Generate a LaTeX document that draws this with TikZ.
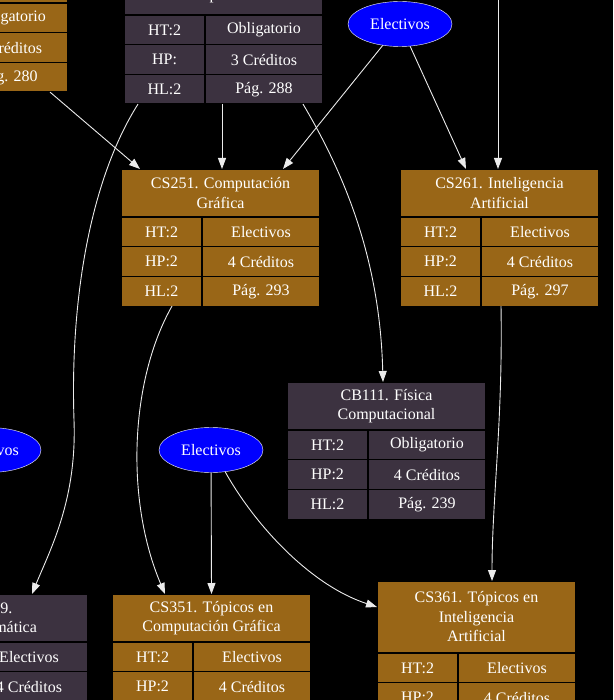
\documentclass[tikz,border=0pt]{standalone}
\usepackage{fontspec}
\setmainfont{Liberation Serif}
\usetikzlibrary{positioning,arrows.meta,shapes.geometric}

\definecolor{cafe}{RGB}{153,102,23}
\definecolor{gris}{RGB}{60,50,64}

% estilo, nombre, posicion, titulo, HP, categoria, creditos, pagina, alto del titulo
\newcommand\curso[9]{%
  \node[titulo,fill=#1,minimum height=#9,anchor=north west] (#2) at #3 {#4};
  \node[celda,izq,fill=#1,below=0pt of #2.south west,anchor=north west] (#2-ht) {HT:2};
  \node[celda,der,fill=#1,right=0pt of #2-ht] (#2-cat) {#6};
  \node[celda,izq,fill=#1,below=0pt of #2-ht.south west,anchor=north west] (#2-hp) {#5};
  \node[celda,der,fill=#1,right=0pt of #2-hp] (#2-cr) {#7};
  \node[celda,izq,fill=#1,below=0pt of #2-hp.south west,anchor=north west] (#2-hl) {HL:2};
  \node[celda,der,fill=#1,right=0pt of #2-hl] (#2-pag) {#8};
}

\begin{document}
\begin{tikzpicture}[x=1pt,y=-1pt,
  font=\fontsize{16}{19.5}\selectfont, >={Triangle[length=11pt,width=8pt]},
  titulo/.style={draw=black,line width=1.2pt,text=white,align=center,minimum width=199pt,inner sep=0pt,outer sep=0pt},
  celda/.style={draw=black,line width=1.2pt,text=white,minimum height=29.7pt,inner sep=0pt,outer sep=0pt},
  izq/.style={minimum width=81pt},
  der/.style={minimum width=118pt},
  elec/.style={ellipse,draw=white,fill=blue,text=white,minimum width=104pt,minimum height=45pt,inner sep=0pt},
  flecha/.style={->,draw=white!92!black,line width=0.9pt}
]
\useasboundingbox (0,0) rectangle (613,700);
\fill[black] (0,0) rectangle (613,700);
\clip (0,0) rectangle (613,700);

\curso{cafe}{p280}{(-131,-45)}{}{HP:2}{Obligatorio}{4 Créditos}{Pág. 280}{48pt}
\curso{gris}{p288}{(124,-33)}{\mbox{}\\computación}{HP:}{Obligatorio}{3 Créditos}{Pág. 288}{48pt}
\curso{cafe}{cs251}{(121,169)}{CS251. Computación\\Gráfica}{HP:2}{Electivos}{4 Créditos}{Pág. 293}{48pt}
\curso{cafe}{cs261}{(400,169)}{CS261. Inteligencia\\Artificial}{HP:2}{Electivos}{4 Créditos}{Pág. 297}{48pt}
\curso{gris}{cb111}{(287,382)}{CB111. Física\\Computacional}{HP:2}{Obligatorio}{4 Créditos}{Pág. 239}{48pt}
\curso{gris}{cs309}{(-111,594)}{CS309.\\Bioinformática}{HP:2}{Electivos}{4 Créditos}{}{48pt}
\curso{cafe}{cs351}{(112,594)}{CS351. Tópicos en\\Computación Gráfica}{HP:2}{Electivos}{4 Créditos}{}{48pt}
\curso{cafe}{cs361}{(377,581)}{CS361. Tópicos en\\Inteligencia\\Artificial}{HP:2}{Electivos}{4 Créditos}{}{72pt}

\node[elec] (el1) at (400,24) {Electivos};
\node[elec] (el2) at (211,450) {Electivos};
\node[elec] (el3) at (-11,450) {Electivos};
\coordinate (arriba) at (498,-5);

\draw[flecha] ([xshift=41pt]p280-pag.south) -- ([xshift=-80.5pt]cs251.north);
\draw[flecha] ([xshift=-26.5pt]p288-hl.south) .. controls (90,180) and (70,300) .. (74,420)
  .. controls (77,500) and (50,550) .. ([xshift=43.5pt]cs309.north);
\draw[flecha] ([xshift=-42pt]p288-pag.south) -- ([xshift=1.5pt]cs251.north);
\draw[flecha] ([xshift=39pt]p288-pag.south) .. controls (345,175) and (380,260) .. ([xshift=-3.5pt]cb111.north);
\draw[flecha] (el1) -- ([xshift=62.5pt]cs251.north);
\draw[flecha] (el1) -- ([xshift=-33.5pt]cs261.north);
\draw[flecha] (arriba) -- ([xshift=-1.5pt]cs261.north);
\draw[flecha] ([xshift=10.5pt]cs251-hl.south) .. controls (130,380) and (125,500) .. ([xshift=-46.5pt]cs351.north);
\draw[flecha] ([xshift=-39pt]cs261-pag.south) .. controls (503,420) and (492,500) .. ([xshift=15.5pt]cs361.north);
\draw[flecha] (el2) -- (cs351.north);
\draw[flecha] (el2.-57) .. controls (255,525) and (310,585) .. ([yshift=10pt]cs361.west);
\end{tikzpicture}
\end{document}
